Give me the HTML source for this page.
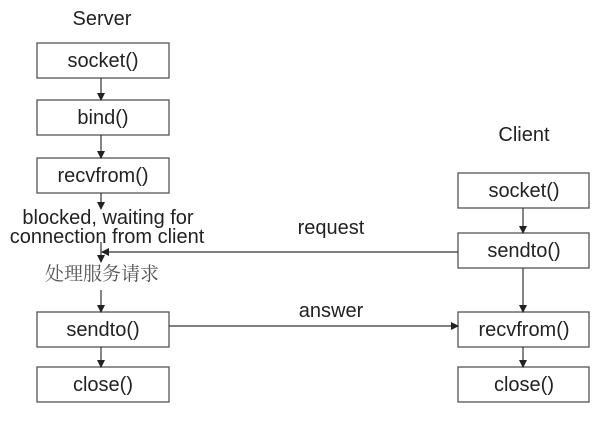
<!DOCTYPE html>
<html><head><style>
body{margin:0;background:#fff;}
svg text{font-family:"Liberation Sans",Arial,sans-serif;font-size:20px;fill:#222;}
</style></head><body>
<svg width="614" height="426" xmlns="http://www.w3.org/2000/svg">
<defs><marker id="a" markerWidth="8" markerHeight="8" refX="7" refY="4" orient="auto" markerUnits="userSpaceOnUse"><path d="M0,0 L8,4 L0,8z" fill="#222"/></marker></defs>
<g fill="#fff" stroke="#555" stroke-width="1.3">
<rect x="37" y="43" width="132" height="35"/>
<rect x="37" y="100" width="132" height="35"/>
<rect x="37" y="158" width="132" height="35"/>
<rect x="37" y="312" width="132" height="35"/>
<rect x="37" y="367" width="132" height="35"/>
<rect x="458" y="173" width="131" height="35"/>
<rect x="458" y="233" width="131" height="35"/>
<rect x="458" y="312" width="131" height="35"/>
<rect x="458" y="367" width="131" height="35"/>
</g>
<g stroke="#333" stroke-width="1.2" marker-end="url(#a)">
<line x1="101" y1="78" x2="101" y2="100"/>
<line x1="101" y1="135" x2="101" y2="158"/>
<line x1="101" y1="193" x2="101" y2="209"/>
<line x1="101" y1="242" x2="101" y2="262"/>
<line x1="101" y1="290" x2="101" y2="312"/>
<line x1="101" y1="347" x2="101" y2="367"/>
<line x1="458" y1="252" x2="102" y2="252"/>
<line x1="169" y1="326" x2="458" y2="326"/>
<line x1="523" y1="208" x2="523" y2="233"/>
<line x1="523" y1="268" x2="523" y2="312"/>
<line x1="523" y1="347" x2="523" y2="367"/>
</g>
<g text-anchor="middle">
<text x="102" y="25">Server</text>
<text x="524" y="141">Client</text>
<text x="103" y="67">socket()</text>
<text x="103" y="124">bind()</text>
<text x="103" y="182">recvfrom()</text>
<text x="103" y="336">sendto()</text>
<text x="103" y="391">close()</text>
<text x="524" y="197">socket()</text>
<text x="524" y="257">sendto()</text>
<text x="524" y="336">recvfrom()</text>
<text x="524" y="391">close()</text>
<text x="108" y="224">blocked, waiting for</text>
<text x="107" y="243">connection from client</text>
<text x="331" y="234">request</text>
<text x="331" y="317">answer</text>
<text x="102" y="280" style="font-family:'Noto Serif CJK SC','Noto Sans CJK SC',serif;font-size:19px;fill:#555">处理服务请求</text>
</g>
</svg>
</body></html>
